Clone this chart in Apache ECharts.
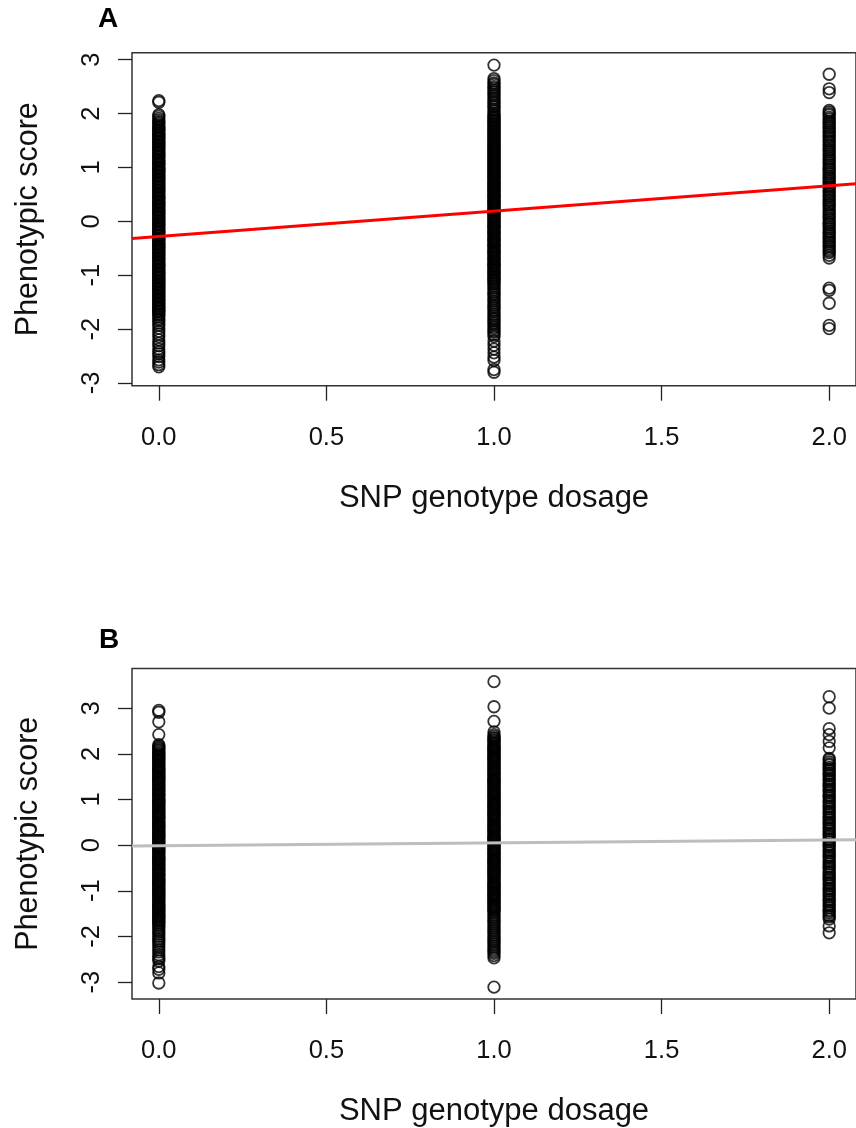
<!DOCTYPE html>
<html>
<head>
<meta charset="utf-8">
<title>SNP genotype dosage vs phenotypic score</title>
<script src="https://cdn.jsdelivr.net/npm/echarts@6/dist/echarts.min.js"></script>
<style>
  html, body { margin: 0; padding: 0; background: #fff; overflow: hidden; }
  #chart { width: 856px; height: 1128px; }
</style>
</head>
<body>
<div id="chart"></div>
<script>
// Tick positions and labels shared by both panels
const xTicks = [0, 0.5, 1, 1.5, 2];
const yTicks = [-3, -2, -1, 0, 1, 2, 3];

// Panel A: phenotypic scores per genotype dosage
const scoresA0 = [2.24, 2.21, 1.98, 1.95, 1.91, 1.88, 1.85, 1.83, 1.80, 1.77,
  1.75, 1.73, 1.70, 1.69, 1.67, 1.64, 1.62, 1.61, 1.58, 1.56, 1.54,
  1.52, 1.49, 1.48, 1.46, 1.43, 1.41, 1.40, 1.37, 1.35, 1.33,
  1.31, 1.28, 1.27, 1.25, 1.22, 1.20, 1.19, 1.16, 1.14, 1.12,
  1.10, 1.07, 1.06, 1.04, 1.01, 0.99, 0.98, 0.95, 0.93, 0.91,
  0.89, 0.86, 0.85, 0.83, 0.80, 0.78, 0.77, 0.74, 0.72, 0.70,
  0.68, 0.65, 0.64, 0.62, 0.59, 0.57, 0.56, 0.53, 0.51, 0.49,
  0.47, 0.44, 0.43, 0.41, 0.38, 0.36, 0.35, 0.32, 0.30, 0.28,
  0.26, 0.23, 0.22, 0.20, 0.17, 0.15, 0.14, 0.11, 0.09, 0.07,
  0.05, 0.02, 0.01, -0.01, -0.04, -0.06, -0.07, -0.10, -0.12, -0.14,
  -0.16, -0.19, -0.20, -0.22, -0.25, -0.27, -0.28, -0.31, -0.33, -0.35,
  -0.37, -0.40, -0.41, -0.43, -0.46, -0.48, -0.49, -0.52, -0.54, -0.56,
  -0.58, -0.61, -0.62, -0.64, -0.67, -0.69, -0.70, -0.73, -0.75, -0.77,
  -0.79, -0.82, -0.83, -0.85, -0.88, -0.90, -0.91, -0.94, -0.96, -0.98,
  -1.00, -1.03, -1.04, -1.06, -1.09, -1.11, -1.12, -1.15, -1.17, -1.19,
  -1.21, -1.24, -1.25, -1.27, -1.30, -1.32, -1.33, -1.36, -1.38, -1.40,
  -1.42, -1.45, -1.46, -1.48, -1.51, -1.53, -1.54, -1.57, -1.59, -1.61,
  -1.63, -1.66, -1.67, -1.69, -1.72, -1.74,
  -1.77, -1.81, -1.84, -1.89, -1.93, -1.98, -2.04, -2.09, -2.14, -2.20,
  -2.26, -2.31, -2.37, -2.42, -2.46, -2.51, -2.57, -2.61, -2.66, -2.70];

const scoresA1 = [2.90, 2.65, 2.61, 2.57, 2.54, 2.50, 2.47, 2.43, 2.40, 2.36, 2.33,
  2.29, 2.26, 2.22, 2.19, 2.15, 2.12, 2.08, 2.05, 2.01, 1.98,
  1.96, 1.93, 1.92, 1.89, 1.87, 1.85, 1.82, 1.81, 1.79, 1.76,
  1.74, 1.72, 1.69, 1.68, 1.65, 1.63, 1.61, 1.58, 1.57, 1.55,
  1.52, 1.50, 1.48, 1.45, 1.44, 1.41, 1.39, 1.37, 1.34, 1.33,
  1.31, 1.28, 1.26, 1.24, 1.21, 1.20, 1.17, 1.15, 1.13, 1.10,
  1.09, 1.07, 1.04, 1.02, 1.00, 0.97, 0.96, 0.93, 0.91, 0.89,
  0.86, 0.85, 0.83, 0.80, 0.78, 0.76, 0.73, 0.72, 0.69, 0.67,
  0.65, 0.62, 0.61, 0.59, 0.56, 0.54, 0.52, 0.49, 0.48, 0.45,
  0.43, 0.41, 0.38, 0.37, 0.35, 0.32, 0.30, 0.28, 0.25, 0.24,
  0.21, 0.19, 0.17, 0.14, 0.13, 0.11, 0.08, 0.06, 0.04, 0.01,
  0.00, -0.03, -0.05, -0.07, -0.10, -0.11, -0.13, -0.16, -0.18, -0.20,
  -0.23, -0.24, -0.27, -0.29, -0.31, -0.34, -0.35, -0.37, -0.40, -0.42,
  -0.44, -0.47, -0.48, -0.51, -0.53, -0.55, -0.58, -0.59, -0.61, -0.64,
  -0.66, -0.68, -0.71, -0.72, -0.75, -0.77, -0.79, -0.82, -0.83, -0.85,
  -0.88, -0.90, -0.92, -0.95, -0.96, -0.99, -1.01, -1.03, -1.06, -1.07,
  -1.09, -1.12, -1.14,
  -1.17, -1.20, -1.24, -1.27, -1.31, -1.34, -1.37, -1.41, -1.44, -1.48,
  -1.51, -1.55, -1.58, -1.61, -1.65, -1.68, -1.72, -1.75, -1.79, -1.82,
  -1.85, -1.89, -1.92, -1.96, -1.99, -2.03, -2.06, -2.10, -2.14,
  -2.22, -2.30, -2.37, -2.44, -2.52, -2.58, -2.75, -2.80];

const scoresA2 = [2.73, 2.46, 2.39, 2.06, 2.03,
  2.00, 1.97, 1.93, 1.90, 1.86, 1.83, 1.80, 1.76, 1.73, 1.69,
  1.66, 1.63, 1.59, 1.56, 1.52, 1.49, 1.46, 1.42, 1.39, 1.35,
  1.32, 1.29, 1.25, 1.22, 1.18, 1.15, 1.12, 1.08, 1.05, 1.01,
  0.98, 0.95, 0.91, 0.88, 0.84, 0.81, 0.78, 0.74, 0.71, 0.67,
  0.64, 0.61, 0.57, 0.54, 0.50, 0.47, 0.44, 0.40, 0.37, 0.33,
  0.30, 0.27, 0.23, 0.20, 0.16, 0.13, 0.10, 0.06, 0.03, -0.01,
  -0.04, -0.07, -0.11, -0.14, -0.18, -0.21, -0.24, -0.28, -0.31, -0.35,
  -0.38, -0.41, -0.45, -0.48, -0.52, -0.55, -0.58,
  -0.63, -0.68, -1.24, -1.28, -1.52, -1.93, -1.99];

// Panel B: phenotypic scores per genotype dosage
const scoresB0 = [2.95, 2.91, 2.70, 2.42, 2.20, 2.17,
  2.14, 2.12, 2.09, 2.07, 2.04, 2.01, 1.99, 1.96, 1.94, 1.92,
  1.89, 1.87, 1.84, 1.82, 1.79, 1.76, 1.74, 1.71, 1.69, 1.67,
  1.64, 1.62, 1.59, 1.57, 1.54, 1.51, 1.49, 1.46, 1.44, 1.42,
  1.39, 1.37, 1.34, 1.32, 1.29, 1.26, 1.24, 1.21, 1.19, 1.17,
  1.14, 1.12, 1.09, 1.07, 1.04, 1.01, 0.99, 0.96, 0.94, 0.92,
  0.89, 0.87, 0.84, 0.82, 0.79, 0.76, 0.74, 0.71, 0.69, 0.67,
  0.64, 0.62, 0.59, 0.57, 0.54, 0.51, 0.49, 0.46, 0.44, 0.42,
  0.39, 0.37, 0.34, 0.32, 0.29, 0.26, 0.24, 0.21, 0.19, 0.17,
  0.14, 0.12, 0.09, 0.07, 0.04, 0.01, -0.01, -0.04, -0.06, -0.08,
  -0.11, -0.13, -0.16, -0.18, -0.21, -0.24, -0.26, -0.29, -0.31, -0.33,
  -0.36, -0.38, -0.41, -0.43, -0.46, -0.49, -0.51, -0.54, -0.56, -0.58,
  -0.61, -0.63, -0.66, -0.68, -0.71, -0.74, -0.76, -0.79, -0.81, -0.83,
  -0.86, -0.88, -0.91, -0.93, -0.96, -0.99, -1.01, -1.04, -1.06, -1.08,
  -1.11, -1.13, -1.16, -1.18, -1.21, -1.24, -1.26, -1.29, -1.31, -1.33,
  -1.36, -1.38, -1.41, -1.43, -1.46, -1.49, -1.51, -1.54, -1.56, -1.58,
  -1.61, -1.63, -1.66, -1.68, -1.71, -1.74,
  -1.78, -1.82, -1.86, -1.90, -1.95, -2.00, -2.05, -2.09, -2.13, -2.18,
  -2.23, -2.29, -2.34, -2.40, -2.45, -2.49, -2.54, -2.66, -2.72, -2.80, -3.02];

const scoresB1 = [3.58, 3.03, 2.71, 2.48, 2.42, 2.38,
  2.35, 2.33, 2.30, 2.28, 2.25, 2.22, 2.20, 2.17, 2.15, 2.13,
  2.10, 2.08, 2.05, 2.03, 2.00, 1.97, 1.95, 1.92, 1.90, 1.88,
  1.85, 1.83, 1.80, 1.78, 1.75, 1.72, 1.70, 1.67, 1.65, 1.63,
  1.60, 1.58, 1.55, 1.53, 1.50, 1.47, 1.45, 1.42, 1.40, 1.38,
  1.35, 1.33, 1.30, 1.28, 1.25, 1.22, 1.20, 1.17, 1.15, 1.13,
  1.10, 1.08, 1.05, 1.03, 1.00, 0.97, 0.95, 0.92, 0.90, 0.88,
  0.85, 0.83, 0.80, 0.78, 0.75, 0.72, 0.70, 0.67, 0.65, 0.63,
  0.60, 0.58, 0.55, 0.53, 0.50, 0.47, 0.45, 0.42, 0.40, 0.38,
  0.35, 0.33, 0.30, 0.28, 0.25, 0.22, 0.20, 0.17, 0.15, 0.13,
  0.10, 0.08, 0.05, 0.03, 0.00, -0.03, -0.05, -0.08, -0.10, -0.12,
  -0.15, -0.17, -0.20, -0.22, -0.25, -0.28, -0.30, -0.33, -0.35, -0.37,
  -0.40, -0.42, -0.45, -0.47, -0.50, -0.53, -0.55, -0.58, -0.60, -0.62,
  -0.65, -0.67, -0.70, -0.72, -0.75, -0.78, -0.80, -0.83, -0.85, -0.87,
  -0.90, -0.92, -0.95, -0.97, -1.00, -1.03, -1.05, -1.08, -1.10, -1.12,
  -1.15, -1.17, -1.20, -1.22, -1.25, -1.28, -1.30, -1.33, -1.35, -1.37,
  -1.40, -1.42, -1.45,
  -1.49, -1.53, -1.57, -1.61, -1.65, -1.69, -1.73, -1.77, -1.81, -1.85,
  -1.89, -1.93, -1.97, -2.01, -2.05, -2.09, -2.13, -2.17, -2.21, -2.25,
  -2.29, -2.33, -2.37, -2.42, -2.47, -3.11];

const scoresB2 = [3.25, 3.00, 2.55, 2.42, 2.27, 2.13,
  1.90, 1.87, 1.82, 1.78, 1.75, 1.70, 1.66, 1.63, 1.58, 1.55,
  1.51, 1.46, 1.43, 1.39, 1.34, 1.31, 1.27, 1.22, 1.19, 1.15,
  1.10, 1.07, 1.03, 0.98, 0.95, 0.91, 0.86, 0.83, 0.79, 0.74,
  0.71, 0.67, 0.62, 0.59, 0.55, 0.50, 0.47, 0.43, 0.38, 0.35,
  0.31, 0.26, 0.23, 0.19, 0.14, 0.11, 0.07, 0.02, -0.01, -0.05,
  -0.10, -0.13, -0.17, -0.22, -0.25, -0.29, -0.34, -0.37, -0.41, -0.46,
  -0.49, -0.53, -0.58, -0.61, -0.65, -0.70, -0.73, -0.77, -0.82, -0.85,
  -0.89, -0.94, -0.97, -1.01, -1.06, -1.09, -1.13, -1.18, -1.21, -1.25,
  -1.30, -1.33, -1.37, -1.42, -1.45, -1.49, -1.54, -1.57, -1.62,
  -1.77, -1.92];

// Fitted regression lines (endpoints at the plot edges)
const fitA = [[-0.08, -0.32], [2.08, 0.70]];
const fitB = [[-0.08, -0.02], [2.08, 0.12]];

const FONT = '"Liberation Sans", Arial, Helvetica, sans-serif';

function points(dosage, scores) {
  return scores.map(v => [dosage, v]);
}

function xAxisFor(gridIndex) {
  return {
    type: 'value', gridIndex, min: -0.08, max: 2.08, position: 'bottom',
    axisLine: { show: false, onZero: false },
    splitLine: { show: false },
    axisTick: { show: true, inside: false, customValues: xTicks, length: 15,
      lineStyle: { color: '#222', width: 1.3 } },
    axisLabel: { customValues: xTicks, formatter: v => v.toFixed(1),
      fontFamily: FONT, fontSize: 25.5, color: '#111', margin: 39 },
    name: 'SNP genotype dosage', nameLocation: 'middle', nameGap: 97,
    nameTextStyle: { fontFamily: FONT, fontSize: 31, color: '#111' }
  };
}

function yAxisFor(gridIndex, min, max) {
  return {
    type: 'value', gridIndex, min, max, position: 'left',
    axisLine: { show: false, onZero: false },
    splitLine: { show: false },
    axisTick: { show: true, inside: false, customValues: yTicks, length: 14,
      lineStyle: { color: '#222', width: 1.3 } },
    axisLabel: { customValues: yTicks, rotate: 90,
      fontFamily: FONT, fontSize: 25.5, color: '#111', margin: 27 },
    name: 'Phenotypic score', nameLocation: 'middle', nameGap: 88, nameRotate: 90,
    nameTextStyle: { fontFamily: FONT, fontSize: 30.5, color: '#111' }
  };
}

// Open circles: transparent fill, black outline
const circleStyle = { color: 'rgba(0,0,0,0)', borderColor: '#000', borderWidth: 1.8 };

function scatter(idx, data) {
  return {
    type: 'scatter', xAxisIndex: idx, yAxisIndex: idx, data,
    symbol: 'circle', symbolSize: 11.5, itemStyle: circleStyle,
    large: false, progressive: 0, silent: true, animation: false, z: 2
  };
}

function fitLine(idx, data, color) {
  return {
    type: 'line', xAxisIndex: idx, yAxisIndex: idx, data,
    symbol: 'none', lineStyle: { color, width: 3 },
    silent: true, animation: false, z: 5
  };
}

const chart = echarts.init(document.getElementById('chart'), null, { renderer: 'canvas' });
chart.setOption({
  animation: false,
  backgroundColor: '#fff',
  grid: [
    { left: 132, top: 52.7, width: 732, height: 333, show: true,
      borderColor: '#333', borderWidth: 1.5, backgroundColor: 'transparent' },
    { left: 132, top: 668.4, width: 732, height: 331.8, show: true,
      borderColor: '#333', borderWidth: 1.5, backgroundColor: 'transparent' }
  ],
  xAxis: [xAxisFor(0), xAxisFor(1)],
  yAxis: [yAxisFor(0, -3.05, 3.13), yAxisFor(1, -3.37, 3.87)],
  graphic: [
    { type: 'text', left: 98, top: 5, style: { text: 'A', fontFamily: FONT, fontWeight: 'bold', fontSize: 28, fill: '#000' } },
    { type: 'text', left: 99, top: 626, style: { text: 'B', fontFamily: FONT, fontWeight: 'bold', fontSize: 28, fill: '#000' } }
  ],
  series: [
    scatter(0, [].concat(points(0, scoresA0), points(1, scoresA1), points(2, scoresA2))),
    fitLine(0, fitA, '#ff0000'),
    scatter(1, [].concat(points(0, scoresB0), points(1, scoresB1), points(2, scoresB2))),
    fitLine(1, fitB, '#bdbdbd')
  ]
});
</script>
</body>
</html>
